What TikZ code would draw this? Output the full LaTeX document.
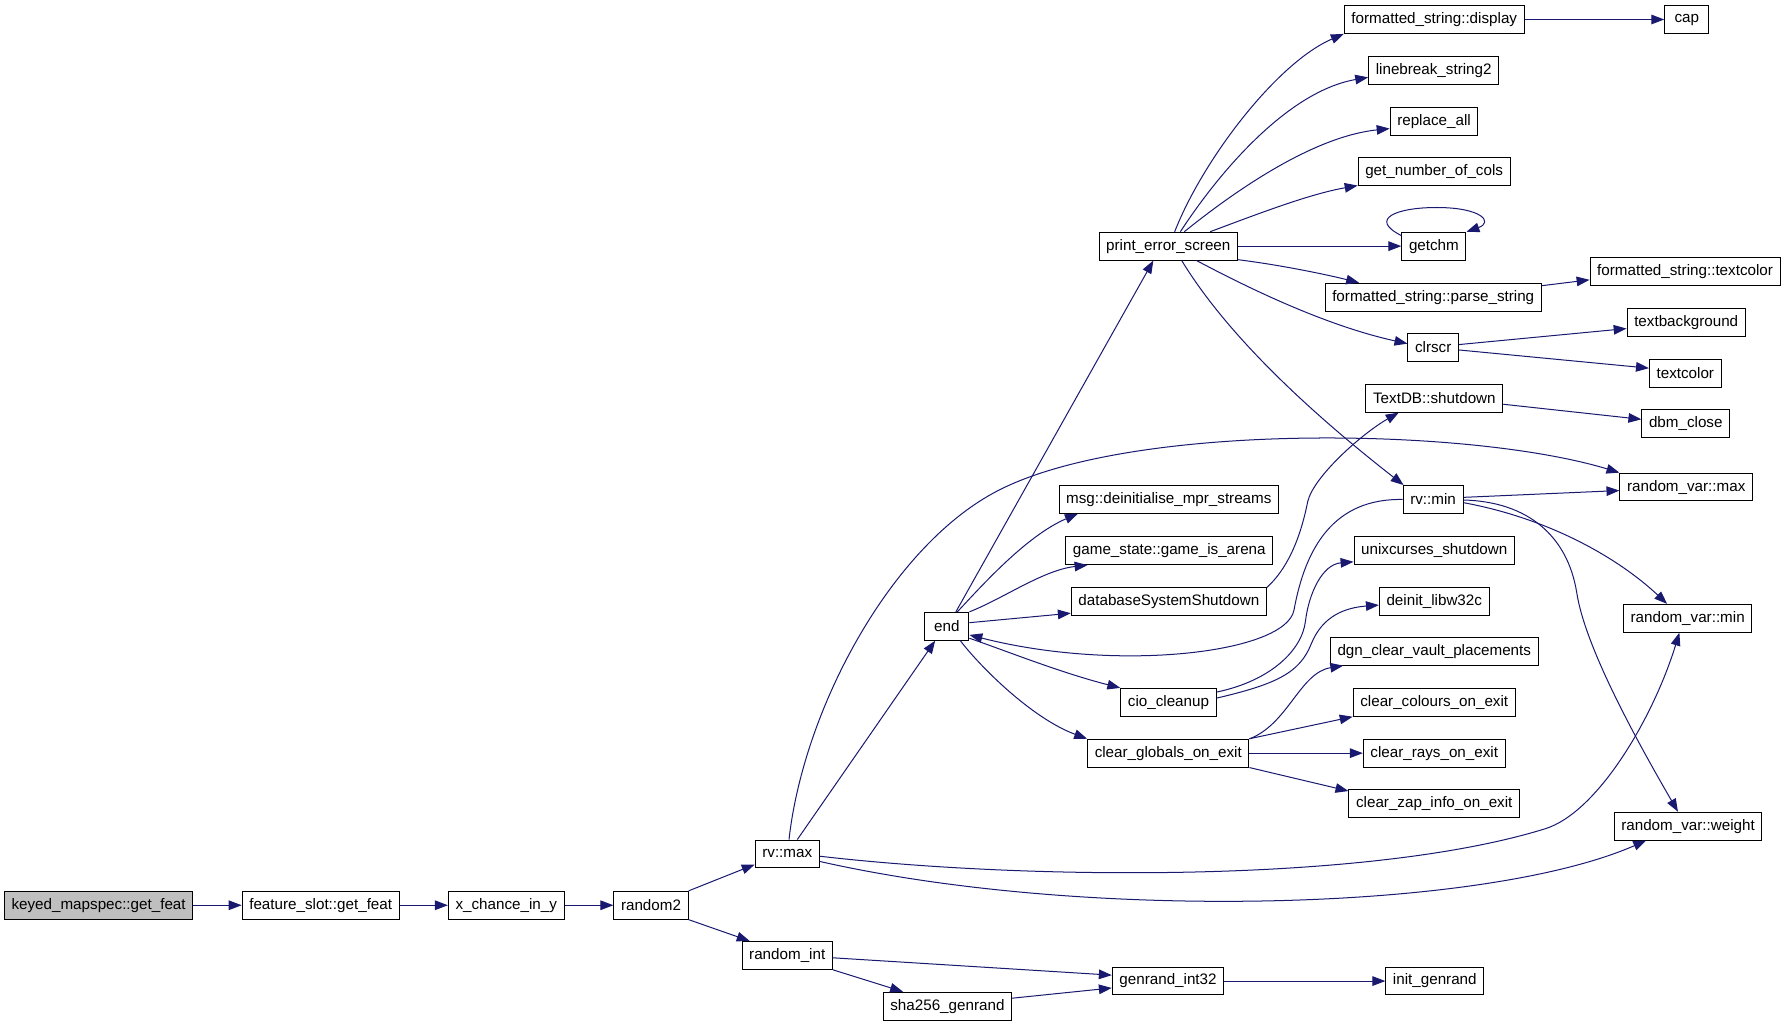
\documentclass[tikz,border=0pt]{standalone}
\usepackage{fontspec}
\setmainfont{Liberation Sans}
\usepackage{tikz}
\usetikzlibrary{arrows.meta, positioning}
\definecolor{navy}{HTML}{191970}

\begin{document}
\begin{tikzpicture}[x=0.75pt, y=-0.75pt, >={Triangle[length=8.5pt, width=6.3pt]},
  fn/.style={draw, fill=white, line width=0.66pt, inner xsep=4.7pt, inner ysep=0pt,
    minimum height=18.3pt, minimum width=29pt, font=\fontsize{10}{12}\selectfont},
  root/.style={fn, fill=gray!50},
  call/.style={->, draw=navy, line width=0.66pt}]
\useasboundingbox[fill=white] (0,0) rectangle (1567.4,898.2);

% caller chain
\node[root] (keyed) at (86.5,794) {keyed\_mapspec::get\_feat};
\node[fn] (feat) at (281.3,794) {feature\_slot::get\_feat};
\node[fn] (xchance) at (444,794) {x\_chance\_in\_y};
\node[fn] (random2) at (571,794) {random2};
\node[fn] (rvmax) at (690.5,749) {rv::max};
\node[fn] (randint) at (690.5,838) {random\_int};
\node[fn] (sha) at (831,882.5) {sha256\_genrand};
\node[fn] (genrand) at (1024.5,860.5) {genrand\_int32};
\node[fn] (initgen) at (1258.5,860.5) {init\_genrand};
\node[fn] (endf) at (830.5,549.3) {end};

% middle column
\node[fn] (pes) at (1024.7,215.9) {print\_error\_screen};
\node[fn] (msg) at (1025.2,438) {msg::deinitialise\_mpr\_streams};
\node[fn] (game) at (1025.6,483) {game\_state::game\_is\_arena};
\node[fn] (dss) at (1025.2,527.3) {databaseSystemShutdown};
\node[fn] (cio) at (1024.9,616) {cio\_cleanup};
\node[fn] (cgoe) at (1024.7,660.6) {clear\_globals\_on\_exit};

% right columns
\node[fn] (fsdisp) at (1258,17.1) {formatted\_string::display};
\node[fn] (lbs) at (1257.5,61.8) {linebreak\_string2};
\node[fn] (repall) at (1257.8,106.6) {replace\_all};
\node[fn] (ncols) at (1257.9,150.1) {get\_number\_of\_cols};
\node[fn] (getchm) at (1257.7,215.9) {getchm};
\node[fn] (parse) at (1257.1,260.6) {formatted\_string::parse\_string};
\node[fn] (clrscr) at (1257.1,304.6) {clrscr};
\node[fn] (textdb) at (1258.1,349.3) {TextDB::shutdown};
\node[fn] (rvmin) at (1257,438.1) {rv::min};
\node[fn] (unixc) at (1258,482.8) {unixcurses\_shutdown};
\node[fn] (deinit) at (1258,527.3) {deinit\_libw32c};
\node[fn] (dgn) at (1258,571.2) {dgn\_clear\_vault\_placements};
\node[fn] (colours) at (1258,616) {clear\_colours\_on\_exit};
\node[fn] (rays) at (1258,660.6) {clear\_rays\_on\_exit};
\node[fn] (zap) at (1258,704.4) {clear\_zap\_info\_on\_exit};
\node[fn] (cap) at (1479.5,17.1) {cap};
\node[fn] (fstc) at (1478,238.1) {formatted\_string::textcolor};
\node[fn] (textbg) at (1479,282.7) {textbackground};
\node[fn] (textcol) at (1478.2,327.4) {textcolor};
\node[fn] (dbm) at (1478.6,371.2) {dbm\_close};
\node[fn] (rvarmax) at (1479,427.2) {random\_var::max};
\node[fn] (rvarmin) at (1480.3,542.3) {random\_var::min};
\node[fn] (rvarw) at (1480.6,724.6) {random\_var::weight};

\draw[call] (keyed) -- (feat);
\draw[call] (feat) -- (xchance);
\draw[call] (xchance) -- (random2);
\draw[call] (random2.north east) -- (rvmax.198);
\draw[call] (random2.south east) -- (randint.159);
\draw[call] (rvmax.55) -- (endf.231);
\draw[call] (rvmax.83) .. controls (705,620) and (784,474) .. (880,428)
  .. controls (1000,370) and (1290,375) .. (rvarmax.north west);
\draw[call] (rvmax.-4.5) .. controls (900,772) and (1200,775) .. (1355,727)
  .. controls (1401,713) and (1450,630) .. (rvarmin.240);
\draw[call] (rvmax.-13) .. controls (950,808) and (1300,800) .. (rvarw.199);
\draw[call] (randint.-3) -- (genrand.174);
\draw[call] (randint.south east) -- (sha.162);
\draw[call] (sha.7) -- (genrand.187);
\draw[call] (genrand) -- (initgen);

% callees of end
\draw[call] (endf.58) -- (pes.224);
\draw[call] (endf.54) .. controls (860,515) and (900,470) .. (msg.189);
\draw[call] (endf.north east) .. controls (880,525) and (915,500) .. (game.190);
\draw[call] (endf.9.5) -- (dss.187);
\draw[call] (endf.-28) .. controls (880,570) and (930,590) .. (cio.north west);
\draw[call] (endf.-47) .. controls (860,585) and (905,630) .. (cgoe.north west);
\draw[call] (rvmin.west) .. controls (1170,437) and (1145,480) .. (1135,535)
  .. controls (1128,573) and (980,590) .. (endf.-21);

\draw[call] (dss.8.7) .. controls (1128,500) and (1140,475) .. (1147,440)
  .. controls (1152,418) and (1195,380) .. (textdb.202);
\draw[call] (cio.12) .. controls (1115,597) and (1142,570) .. (1145,545)
  .. controls (1148,520) and (1160,495) .. (unixc.188);
\draw[call] (cio.5) .. controls (1120,600) and (1140,590) .. (1150,565)
  .. controls (1160,540) and (1180,533) .. (deinit.184);
\draw[call] (cgoe.10.6) .. controls (1130,635) and (1140,590) .. (dgn.189);
\draw[call] (cgoe.north east) -- (colours.south west);
\draw[call] (cgoe) -- (rays);
\draw[call] (cgoe.south east) -- (zap.172);

% callees of print_error_screen
\draw[call] (pes.66) .. controls (1055,140) and (1120,55) .. (fsdisp.south west);
\draw[call] (pes.50) .. controls (1070,150) and (1130,80) .. (lbs.186);
\draw[call] (pes.42) .. controls (1080,170) and (1150,120) .. (repall.189);
\draw[call] (pes.19) .. controls (1110,185) and (1150,170) .. (ncols.south west);
\draw[call] (pes) -- (getchm);
\draw[call] (pes.-11) .. controls (1120,232) and (1160,240) .. (parse.169);
\draw[call] (pes.-27) .. controls (1090,250) and (1160,285) .. (clrscr.172);
\draw[call] (pes.-47) .. controls (1080,300) and (1160,370) .. (rvmin.154);
\draw[call] (getchm.162) .. controls (1200,192) and (1225,182) .. (1260,182)
  .. controls (1300,182) and (1310,195) .. (getchm.north east);

\draw[call] (fsdisp) -- (cap);
\draw[call] (parse.6) -- (fstc.185);
\draw[call] (clrscr.6) -- (textbg.186);
\draw[call] (clrscr.-6) -- (textcol.172);
\draw[call] (textdb.-5.5) -- (dbm.175);
\draw[call] (rvmin.4) -- (rvarmax.183);
\draw[call] (rvmin.-6) .. controls (1360,455) and (1420,490) .. (rvarmin.145);
\draw[call] (rvmin.-1.5) .. controls (1340,440) and (1375,470) .. (1383,520)
  .. controls (1390,565) and (1430,640) .. (rvarw.125);
\end{tikzpicture}
\end{document}
